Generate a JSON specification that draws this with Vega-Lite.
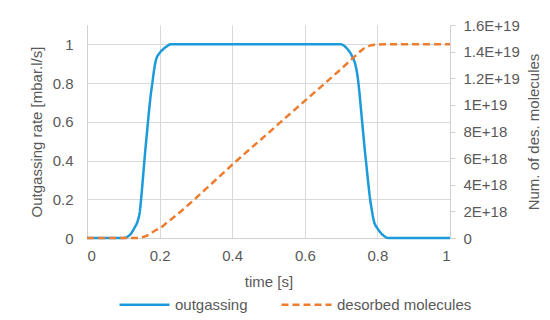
{
  "$schema": "https://vega.github.io/schema/vega-lite/v6.json",
  "autosize": "none",
  "width": 363,
  "height": 213,
  "padding": {"left": 87, "top": 25, "right": 100, "bottom": 82},
  "background": "white",
  "config": {
    "font": "Liberation Sans",
    "view": {"stroke": null},
    "axis": {
      "labelFontSize": 15,
      "labelColor": "#595959",
      "titleFontSize": 15,
      "titleColor": "#595959",
      "titleFontWeight": "normal",
      "domainColor": "#d0d0d0",
      "gridColor": "#d9d9d9",
      "tickColor": "#d0d0d0"
    },
    "legend": {
      "orient": "none",
      "direction": "horizontal",
      "legendX": 31,
      "legendY": 253,
      "symbolType": "stroke",
      "symbolSize": 2500,
      "symbolStrokeWidth": 2.5,
      "labelFontSize": 15,
      "labelColor": "#595959",
      "labelOffset": 4,
      "columnPadding": 28
    }
  },
  "datasets": {
    "outgassing": [
      {"t": 0, "v": 0}, {"t": 0.1, "v": 0}, {"t": 0.11, "v": 0.005}, {"t": 0.12, "v": 0.02},
      {"t": 0.13, "v": 0.05}, {"t": 0.14, "v": 0.09}, {"t": 0.145, "v": 0.13}, {"t": 0.15, "v": 0.22},
      {"t": 0.155, "v": 0.33}, {"t": 0.16, "v": 0.44}, {"t": 0.165, "v": 0.54}, {"t": 0.17, "v": 0.64},
      {"t": 0.175, "v": 0.73}, {"t": 0.18, "v": 0.8}, {"t": 0.185, "v": 0.87}, {"t": 0.19, "v": 0.92},
      {"t": 0.2, "v": 0.955}, {"t": 0.21, "v": 0.975}, {"t": 0.22, "v": 0.99}, {"t": 0.23, "v": 1.0},
      {"t": 0.7, "v": 1.0}, {"t": 0.71, "v": 0.99}, {"t": 0.72, "v": 0.97}, {"t": 0.73, "v": 0.94},
      {"t": 0.74, "v": 0.89}, {"t": 0.745, "v": 0.84}, {"t": 0.75, "v": 0.76}, {"t": 0.755, "v": 0.66},
      {"t": 0.76, "v": 0.56}, {"t": 0.765, "v": 0.46}, {"t": 0.77, "v": 0.37}, {"t": 0.775, "v": 0.28},
      {"t": 0.78, "v": 0.2}, {"t": 0.785, "v": 0.14}, {"t": 0.79, "v": 0.09}, {"t": 0.8, "v": 0.05},
      {"t": 0.81, "v": 0.025}, {"t": 0.82, "v": 0.008}, {"t": 0.83, "v": 0}, {"t": 1, "v": 0}
    ],
    "desorbed": [
      {"t": 0, "n": 0}, {"t": 0.1, "n": 0}, {"t": 0.14, "n": 0}, {"t": 0.15, "n": 5e16},
      {"t": 0.16, "n": 1.2e17}, {"t": 0.17, "n": 2.5e17}, {"t": 0.18, "n": 4.3e17}, {"t": 0.19, "n": 6e17},
      {"t": 0.2, "n": 7.2e17}, {"t": 0.22, "n": 1.15e18}, {"t": 0.25, "n": 1.8e18}, {"t": 0.3, "n": 3.0e18},
      {"t": 0.34, "n": 4.0e18}, {"t": 0.4, "n": 5.5e18}, {"t": 0.5, "n": 7.9e18}, {"t": 0.6, "n": 1.03e19},
      {"t": 0.642, "n": 1.13e19}, {"t": 0.7, "n": 1.27e19}, {"t": 0.72, "n": 1.32e19}, {"t": 0.734, "n": 1.355e19},
      {"t": 0.75, "n": 1.395e19}, {"t": 0.761, "n": 1.42e19}, {"t": 0.78, "n": 1.445e19}, {"t": 0.8, "n": 1.453e19},
      {"t": 0.82, "n": 1.455e19}, {"t": 1, "n": 1.455e19}
    ]
  },
  "encoding": {
    "x": {
      "field": "t",
      "type": "quantitative",
      "scale": {"domain": [0, 1], "nice": false},
      "axis": {
        "title": "time [s]",
        "values": [0, 0.2, 0.4, 0.6, 0.8, 1],
        "format": "~g",
        "ticks": false,
        "grid": true,
        "labelPadding": 10,
        "titlePadding": 11
      }
    }
  },
  "layer": [
    {
      "data": {"name": "outgassing"},
      "mark": {"type": "line", "strokeWidth": 2.5, "interpolate": "monotone"},
      "encoding": {
        "y": {
          "field": "v",
          "type": "quantitative",
          "scale": {"domain": [0, 1.1], "nice": false},
          "axis": {
            "orient": "left",
            "title": "Outgassing rate [mbar.l/s]",
            "values": [0, 0.2, 0.4, 0.6, 0.8, 1],
            "format": "~g",
            "ticks": false,
            "grid": true,
            "labelPadding": 14,
            "titlePadding": 8
          }
        },
        "color": {
          "datum": "outgassing",
          "title": null,
          "scale": {"domain": ["outgassing", "desorbed molecules"], "range": ["#1c9ad9", "#ed7d31"]}
        },
        "strokeDash": {
          "datum": "outgassing",
          "title": null,
          "scale": {"domain": ["outgassing", "desorbed molecules"], "range": [[1, 0], [7, 4]]}
        }
      }
    },
    {
      "data": {"name": "desorbed"},
      "mark": {"type": "line", "strokeWidth": 2.5, "interpolate": "monotone"},
      "encoding": {
        "y": {
          "field": "n",
          "type": "quantitative",
          "scale": {"domain": [0, 1.6e19], "nice": false},
          "axis": {
            "orient": "right",
            "title": "Num. of des. molecules",
            "values": [0, 2e18, 4e18, 6e18, 8e18, 1e19, 1.2e19, 1.4e19, 1.6e19],
            "labelExpr": "datum.value == 0 ? '0' : upper(format(datum.value, '.2~e'))",
            "ticks": true,
            "tickSize": 5,
            "grid": false,
            "labelPadding": 8,
            "titleAngle": 270,
            "titlePadding": 22
          }
        },
        "color": {"datum": "desorbed molecules", "title": null},
        "strokeDash": {"datum": "desorbed molecules", "title": null}
      }
    }
  ],
  "resolve": {"scale": {"y": "independent"}}
}
